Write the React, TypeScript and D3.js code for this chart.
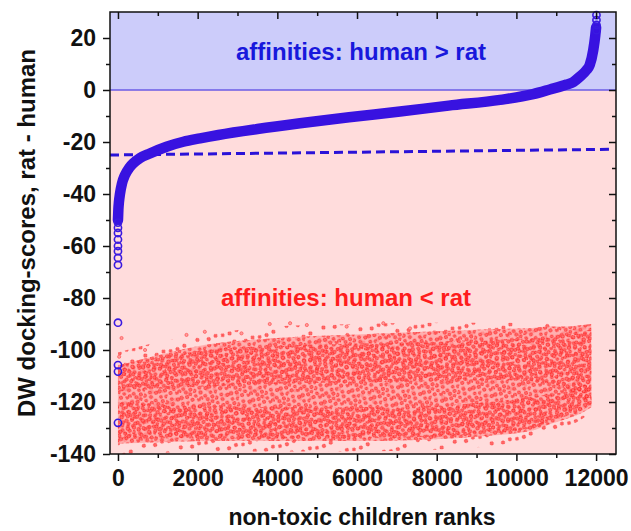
import React, { useEffect, useRef } from 'react';
import * as d3 from 'd3';

const W = 631;
const H = 531;

// sorted rat - human difference (blue open circles)
const curveRank = [0, 10, 25, 50, 100, 176, 280, 385, 550, 800, 1220, 1640, 2060, 2520, 3500, 4570, 5800, 7080, 8300, 9590, 10420, 10840, 11260, 11430, 11590, 11760, 11840, 11930, 11980, 12000];
const curveScore = [-50, -46, -43, -40, -36, -32.7, -30, -28.2, -26.2, -24.4, -21.8, -19.9, -18.6, -17.3, -15, -12.8, -10.5, -8.3, -6, -3.8, -1.6, 0.2, 2.1, 3.1, 5.1, 7.7, 9.6, 15.4, 21, 24];
const lowEndScores = [-51, -53, -55, -57.5, -60, -62, -64.6, -67.3, -89.5, -105.8, -108.3, -128];
const highEndScores = [23, 25, 26.9, 28.8];

// dashed reference line
const dashRank = [-200, 12400];
const dashScore = [-25, -22.8];

// red cloud (human < rat), envelopes of the dense scatter
const cloudRank = [0, 1000, 2200, 3900, 6000, 7700, 9300, 10400, 10850, 11250, 11600, 11880];
const cloudTop = [-106, -102, -98, -95.5, -94, -93, -92, -91.5, -91, -91, -90.5, -90];
const cloudBottom = [-136, -135.5, -135, -135, -135, -134.5, -133, -131, -128.5, -126.5, -124.5, -122];
const haloTop = [-101, -97, -94, -91, -90, -89.5, -89.5, -89.5, -89.5, -89.5, -89.5, -89.5];
const haloBottom = [-140, -139.5, -139, -139, -139, -138.5, -137, -134, -131.5, -129.5, -127, -124];
const upperBandTop = [-106, -103, -100, -98.5, -97.5, -97, -96, -95.5, -95, -94, -93, -92];
const upperBandBottom = [-116, -115, -114, -113, -112.5, -112, -111.5, -112, -113, -115, -118, -121];
const lowerBandTop = [-120, -121, -121.5, -122, -122, -121.5, -120, -118, -117, -116, -114, -112];
const lowerBandBottom = [-134, -134, -134, -134, -134, -133.5, -132, -130, -127.5, -125.5, -123.5, -121];
const strayRank = [30, 90, 680, 1720, 2180, 3100, 3810, 4320, 4740, 5740, 6660, 7330];
const strayScore = [-102.6, -95.4, -100, -94.2, -93, -93.6, -90, -89.7, -90.4, -91, -89.7, -91.7];

const xTicks = [0, 2000, 4000, 6000, 8000, 10000, 12000];
const xMinor = [1000, 3000, 5000, 7000, 9000, 11000];
const yTicks = [-140, -120, -100, -80, -60, -40, -20, 0, 20];
const yMinor = [-130, -110, -90, -70, -50, -30, -10, 10];

const FONT = '"Liberation Sans", Arial, sans-serif';

const App = () => {
  const svgRef = useRef<SVGSVGElement>(null);

  useEffect(() => {
    const svg = d3.select(svgRef.current);
    svg.selectAll('*').remove();

    const x = d3.scaleLinear().domain([-200, 12500]).range([110, 616]);
    const y = d3.scaleLinear().domain([-140, 30]).range([454, 12]);
    const [x0, x1] = x.range();
    const [yb, yt] = y.range();

    // stipple textures standing in for the thousands of overlapping red markers
    const defs = svg.append('defs');
    const dotPattern = (id, w, h, angle, pts) => {
      const p = defs.append('pattern').attr('id', id)
        .attr('patternUnits', 'userSpaceOnUse').attr('width', w).attr('height', h)
        .attr('patternTransform', `rotate(${angle})`);
      pts.forEach(([cx, cy, r]) => {
        p.append('circle').attr('cx', cx).attr('cy', cy).attr('r', r || 1.6)
          .attr('fill', '#ff6e6e').attr('stroke', '#ff1010').attr('stroke-width', 0.6);
      });
    };
    dotPattern('dotsA', 23, 19, 17, [
      [2, 3], [8, 1, 1.4], [14, 4.5, 1.8], [19, 2], [5, 8.5, 1.5], [11, 7], [17, 9.5, 1.4], [22, 7.5],
      [1, 13, 1.8], [7.5, 12.5], [13, 14.5, 1.5], [20, 13], [4, 17.5, 1.4], [10, 18], [16.5, 17], [21.5, 17.5, 1.5],
    ]);
    dotPattern('dotsB', 17, 13, -29, [[3, 2], [9, 4, 1.4], [15, 1], [6, 8, 1.8], [12, 10], [1, 11, 1.5], [15, 7]]);
    dotPattern('dotsC', 29, 23, 41, [[3, 4], [11, 15, 1.4], [18, 2], [24, 12], [6, 20, 1.5], [15, 9]]);

    // backgrounds
    svg.append('rect').attr('x', x0).attr('y', yt).attr('width', x1 - x0)
      .attr('height', y(0) - yt).attr('fill', '#ccccfa');
    svg.append('rect').attr('x', x0).attr('y', y(0)).attr('width', x1 - x0)
      .attr('height', yb - y(0)).attr('fill', '#ffdcdc');
    svg.append('line').attr('x1', x0).attr('x2', x1).attr('y1', y(0)).attr('y2', y(0))
      .attr('stroke', '#6b5ce6').attr('stroke-width', 1.5);

    // red cloud
    const idx = d3.range(cloudRank.length);
    const band = (top, bottom) => d3.area<number>()
      .x(i => x(cloudRank[i])).y0(i => y(bottom[i])).y1(i => y(top[i]))
      .curve(d3.curveMonotoneX)(idx);
    svg.append('path').attr('d', band(haloTop, haloBottom)).attr('fill', 'url(#dotsC)');
    svg.append('path').attr('d', band(cloudTop, cloudBottom)).attr('fill', '#ffa0a0').attr('opacity', 0.75);
    svg.append('path').attr('d', band(cloudTop, cloudBottom)).attr('fill', 'url(#dotsA)');
    svg.append('path').attr('d', band(upperBandTop, upperBandBottom)).attr('fill', 'url(#dotsB)');
    svg.append('path').attr('d', band(lowerBandTop, lowerBandBottom)).attr('fill', 'url(#dotsB)');
    svg.append('g').selectAll('circle').data(strayRank).join('circle')
      .attr('cx', d => x(d)).attr('cy', (d, i) => y(strayScore[i])).attr('r', 1.6)
      .attr('fill', '#ff9c9c').attr('stroke', '#ff4040').attr('stroke-width', 0.6);

    // dashed line
    svg.append('line')
      .attr('x1', x(dashRank[0])).attr('y1', y(dashScore[0]))
      .attr('x2', x(dashRank[1])).attr('y2', y(dashScore[1]))
      .attr('stroke', '#2a12d8').attr('stroke-width', 3).attr('stroke-dasharray', '9,5');

    // blue sorted curve
    const line = d3.line<number>().x(i => x(curveRank[i])).y(i => y(curveScore[i])).curve(d3.curveMonotoneX);
    svg.append('path').attr('d', line(d3.range(curveRank.length)))
      .attr('fill', 'none').attr('stroke', '#3812e0').attr('stroke-width', 10.5)
      .attr('stroke-linecap', 'round').attr('stroke-linejoin', 'round');
    const ends = [
      ...lowEndScores.map(v => [0, v]),
      ...highEndScores.map(v => [12010, v]),
    ];
    svg.append('g').selectAll('circle').data(ends).join('circle')
      .attr('cx', d => x(d[0])).attr('cy', d => y(d[1])).attr('r', 3.6)
      .attr('fill', 'none').attr('stroke', '#3a1ae0').attr('stroke-width', 1.6);

    // annotations
    svg.append('text').attr('x', 361).attr('y', y(11.5))
      .attr('text-anchor', 'middle').attr('font-family', FONT).attr('font-weight', 'bold')
      .attr('font-size', 24).attr('fill', '#1818dc').text('affinities: human > rat');
    svg.append('text').attr('x', 346).attr('y', y(-83))
      .attr('text-anchor', 'middle').attr('font-family', FONT).attr('font-weight', 'bold')
      .attr('font-size', 24).attr('fill', '#ff1c1c').text('affinities: human < rat');

    // axes
    const styleAxis = g => {
      g.select('.domain').remove();
      g.selectAll('line').attr('stroke', '#111').attr('stroke-width', 1.5);
      g.selectAll('text').attr('font-family', FONT).attr('font-weight', 'bold')
        .attr('font-size', 23).attr('fill', '#111');
    };
    const fmt = d => String(d);
    svg.append('g').attr('transform', `translate(0,${yb})`)
      .call(d3.axisBottom(x).tickValues(xTicks).tickSize(7).tickPadding(9).tickFormat(fmt))
      .call(styleAxis);
    svg.append('g').attr('transform', `translate(0,${yb})`)
      .call(d3.axisBottom(x).tickValues(xMinor).tickSize(4).tickFormat(() => ''))
      .call(styleAxis);
    svg.append('g').attr('transform', `translate(${x0},0)`)
      .call(d3.axisLeft(y).tickValues(yTicks).tickSize(7).tickPadding(7).tickFormat(fmt))
      .call(styleAxis);
    svg.append('g').attr('transform', `translate(${x0},0)`)
      .call(d3.axisLeft(y).tickValues(yMinor).tickSize(4).tickFormat(() => ''))
      .call(styleAxis);
    // mirrored inward ticks
    svg.append('g').attr('transform', `translate(0,${yt})`)
      .call(d3.axisTop(x).tickValues(xTicks).tickSize(-7).tickFormat(() => ''))
      .call(styleAxis);
    svg.append('g').attr('transform', `translate(0,${yt})`)
      .call(d3.axisTop(x).tickValues(xMinor).tickSize(-4).tickFormat(() => ''))
      .call(styleAxis);
    svg.append('g').attr('transform', `translate(${x1},0)`)
      .call(d3.axisRight(y).tickValues(yTicks).tickSize(-7).tickFormat(() => ''))
      .call(styleAxis);
    svg.append('g').attr('transform', `translate(${x1},0)`)
      .call(d3.axisRight(y).tickValues(yMinor).tickSize(-4).tickFormat(() => ''))
      .call(styleAxis);

    svg.append('rect').attr('x', x0).attr('y', yt).attr('width', x1 - x0).attr('height', yb - yt)
      .attr('fill', 'none').attr('stroke', '#111').attr('stroke-width', 1.5);

    // axis titles
    svg.append('text').attr('x', (x0 + x1) / 2 - 1).attr('y', 525)
      .attr('text-anchor', 'middle').attr('font-family', FONT).attr('font-weight', 'bold')
      .attr('font-size', 23).attr('fill', '#111').text('non-toxic children ranks');
    svg.append('text').attr('transform', `translate(35,233) rotate(-90)`)
      .attr('text-anchor', 'middle').attr('font-family', FONT).attr('font-weight', 'bold')
      .attr('font-size', 24).attr('fill', '#111').text('DW docking-scores, rat - human');
  }, []);

  return (
    <svg ref={svgRef} width={W} height={H} viewBox={`0 0 ${W} ${H}`}
      style={{ position: 'absolute', left: 0, top: 0, background: '#fff' }} />
  );
};

export default App;
